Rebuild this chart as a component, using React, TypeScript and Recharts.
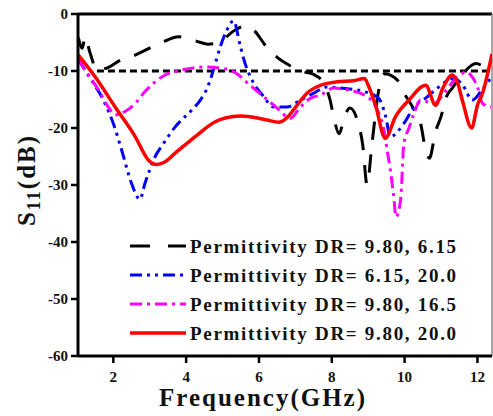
import React from "react";
import {
  LineChart,
  Line,
  XAxis,
  YAxis,
  ReferenceLine,
} from "recharts";

// frequency (GHz) and S11 (dB), one pair of arrays per curve
const freqBlack = [1.04, 1.15, 1.22, 1.36, 1.55, 1.85, 2.2, 2.5, 2.8, 3.3, 3.8, 4.3, 4.6, 4.85, 5.35, 5.6, 5.85, 6.2, 6.5, 6.75, 7.2, 7.5, 7.75, 7.95, 8.06, 8.2, 8.35, 8.5, 8.7, 8.85, 8.97, 9.1, 9.3, 9.45, 9.8, 9.95, 10.26, 10.45, 10.55, 10.68, 10.85, 11.0, 11.15, 11.31, 11.6, 11.96, 12.2, 12.4];
const s11Black = [-4.2, -6, -4, -6.8, -9.8, -9.4, -8.1, -7.5, -6.6, -5.1, -4, -4.8, -5.3, -5.1, -2.8, -2.1, -2.8, -5.7, -7.6, -8.7, -10.1, -10.6, -11.9, -15, -18.3, -21, -18, -16.5, -18.6, -23, -30, -23, -13, -10.5, -11.6, -13.5, -16.8, -19.5, -23, -25.3, -20.6, -18, -14.5, -13, -10.5, -8.7, -9.3, -10];

const freqBlue = [1.04, 1.31, 1.77, 2.0, 2.23, 2.5, 2.73, 2.87, 3.15, 3.38, 3.7, 4.16, 4.39, 4.61, 4.75, 4.94, 5.12, 5.3, 5.49, 5.62, 5.81, 6.13, 6.4, 6.77, 7.14, 7.5, 7.87, 8.24, 8.88, 9.29, 9.48, 9.61, 9.98, 10.26, 10.63, 10.9, 11.36, 11.6, 11.86, 12.18, 12.4];
const s11Blue = [-8, -10.7, -15.7, -19.2, -23.9, -29.7, -32.5, -29.7, -25, -22.7, -19.8, -16.8, -15.1, -12.5, -9.8, -5.7, -2.8, -1.2, -5.7, -8.7, -11.6, -14.5, -16.3, -16.3, -15.1, -13.9, -12.8, -13, -13.6, -14.8, -18, -21.5, -19.2, -16.3, -14.5, -13, -11.3, -12.5, -15.1, -12.8, -11];

const freqMagenta = [1.04, 1.22, 1.59, 1.86, 2.05, 2.32, 2.6, 2.87, 3.15, 3.42, 3.7, 4.16, 4.5, 4.94, 5.3, 5.76, 6.13, 6.5, 6.86, 7.14, 7.41, 7.69, 8.06, 8.42, 8.97, 9.25, 9.45, 9.52, 9.61, 9.71, 9.76, 9.89, 9.98, 10.12, 10.26, 10.44, 10.81, 11.08, 11.45, 11.7, 11.85, 12.0, 12.14, 12.37];
const s11Magenta = [-8, -9.8, -13.3, -16.3, -17.7, -17.1, -15.7, -13.6, -11.9, -10.7, -10.1, -9.5, -9.3, -9.5, -10.1, -12.5, -14.5, -16.5, -18.3, -16.3, -14.8, -14.2, -13, -13.3, -14.5, -16.8, -21, -23.9, -27.4, -32.6, -35.6, -32.6, -22.7, -20, -17.4, -15.1, -15.7, -13.9, -11, -10.2, -11, -12.8, -15.7, -16.3];

const freqRed = [1.04, 1.5, 2.05, 2.6, 2.96, 3.19, 3.4, 3.7, 4.25, 4.8, 5.1, 5.49, 6.0, 6.22, 6.55, 6.8, 6.95, 7.32, 7.69, 8.15, 8.6, 8.9, 9.0, 9.2, 9.47, 9.75, 10.12, 10.58, 10.85, 11.05, 11.31, 11.45, 11.6, 11.84, 12.0, 12.14, 12.4];
const s11Red = [-7.2, -11, -16.3, -21.5, -25.6, -26.4, -26, -24.4, -21.5, -18.9, -18.2, -17.9, -18.3, -18.6, -19, -18, -16.8, -13.9, -12.5, -11.9, -11.7, -11.3, -12.5, -16, -21.8, -18, -15.1, -12.5, -16, -13, -10.7, -12, -15.5, -20, -16, -13.9, -7];

const freqLimit = [1.55, 12.4];
const s11Limit = [-10, -10];

const xTicks = [2, 4, 6, 8, 10, 12];
const yTicks = [0, -10, -20, -30, -40, -50, -60];

const legendNames = [
  "Permittivity DR= 9.80, 6.15",
  "Permittivity DR= 6.15, 20.0",
  "Permittivity DR= 9.80, 16.5",
  "Permittivity DR= 9.80, 20.0",
];

const toPoints = (xs: number[], ys: number[]) =>
  xs.map((f, i) => ({ f, s: ys[i] }));

const FONT = "'Liberation Serif', 'Times New Roman', serif";

const series = [
  { data: toPoints(freqBlack, s11Black), color: "#000000", dash: "18 15", width: 3 },
  { data: toPoints(freqBlue, s11Blue), color: "#0000ff", dash: "12 5 3 5 3 5", width: 3 },
  { data: toPoints(freqMagenta, s11Magenta), color: "#ff00ff", dash: "12 5 3 5", width: 3 },
  { data: toPoints(freqRed, s11Red), color: "#ff0000", dash: undefined, width: 3.5 },
];

// legend sits inside the plot, so it's an overlay instead of <Legend> (which steals plot height)
const ChartLegend = () => (
  <svg
    width={340}
    height={120}
    style={{ position: "absolute", left: 128, top: 234, overflow: "visible" }}
  >
    {series.map((s, i) => (
      <g key={i} transform={`translate(0, ${i * 29})`}>
        <line
          x1={2}
          x2={58}
          y1={12}
          y2={12}
          stroke={s.color}
          strokeWidth={s.width}
          strokeDasharray={i === 0 ? "20 18" : s.dash}
        />
        <text
          x={62}
          y={19}
          fontFamily={FONT}
          fontWeight="bold"
          fontSize={19}
          letterSpacing={1.7}
          fill="#111"
        >
          {legendNames[i]}
        </text>
      </g>
    ))}
  </svg>
);

const YLabel = () => (
  <text
    transform="translate(35,180) rotate(-90)"
    textAnchor="middle"
    fontFamily={FONT}
    fontWeight="bold"
    fontSize={25}
    letterSpacing={2}
    fill="#111"
  >
    S<tspan fontSize={18} dy={5}>11</tspan>
    <tspan dy={-5}>(dB)</tspan>
  </text>
);

const XLabel = () => (
  <text
    x={263}
    y={406}
    textAnchor="middle"
    fontFamily={FONT}
    fontWeight="bold"
    fontSize={25}
    letterSpacing={2}
    fill="#111"
  >
    Frequency(GHz)
  </text>
);

export default function App() {
  return (
    <div style={{ position: "absolute", left: 0, top: 0, width: 493, height: 416, background: "#fff" }}>
      <LineChart
        width={493}
        height={416}
        margin={{ top: 14, right: 1, left: 0, bottom: 0 }}
      >
        <XAxis
          type="number"
          dataKey="f"
          domain={[1.03, 12.4]}
          ticks={xTicks}
          allowDataOverflow
          height={60}
          axisLine={{ stroke: "#000", strokeWidth: 3 }}
          tickLine={{ stroke: "#000", strokeWidth: 2.5 }}
          tickSize={7}
          tickMargin={8}
          tick={{ fill: "#111", fontFamily: FONT, fontWeight: "bold", fontSize: 15 }}
          label={{ content: <XLabel /> }}
        />
        <YAxis
          type="number"
          domain={[-60, 0]}
          ticks={yTicks}
          allowDataOverflow
          width={78}
          axisLine={{ stroke: "#000", strokeWidth: 3 }}
          tickLine={{ stroke: "#000", strokeWidth: 2.5 }}
          tickSize={7}
          tickMargin={3}
          tick={{ fill: "#111", fontFamily: FONT, fontWeight: "bold", fontSize: 15 }}
          label={{ content: <YLabel /> }}
        />
        <ReferenceLine y={0} stroke="#000" strokeWidth={3} />
        <ReferenceLine x={12.4} stroke="#888" strokeWidth={1.5} />
        <Line
          data={toPoints(freqLimit, s11Limit)}
          dataKey="s"
          type="linear"
          stroke="#000"
          strokeWidth={3}
          strokeDasharray="7 4"
          dot={false}
          legendType="none"
          isAnimationActive={false}
        />
        {series.map((s, i) => (
          <Line
            key={i}
            data={s.data}
            dataKey="s"
            name={legendNames[i]}
            type="monotone"
            stroke={s.color}
            strokeWidth={s.width}
            strokeDasharray={s.dash}
            dot={false}
            isAnimationActive={false}
          />
        ))}
      </LineChart>
      <ChartLegend />
    </div>
  );
}
